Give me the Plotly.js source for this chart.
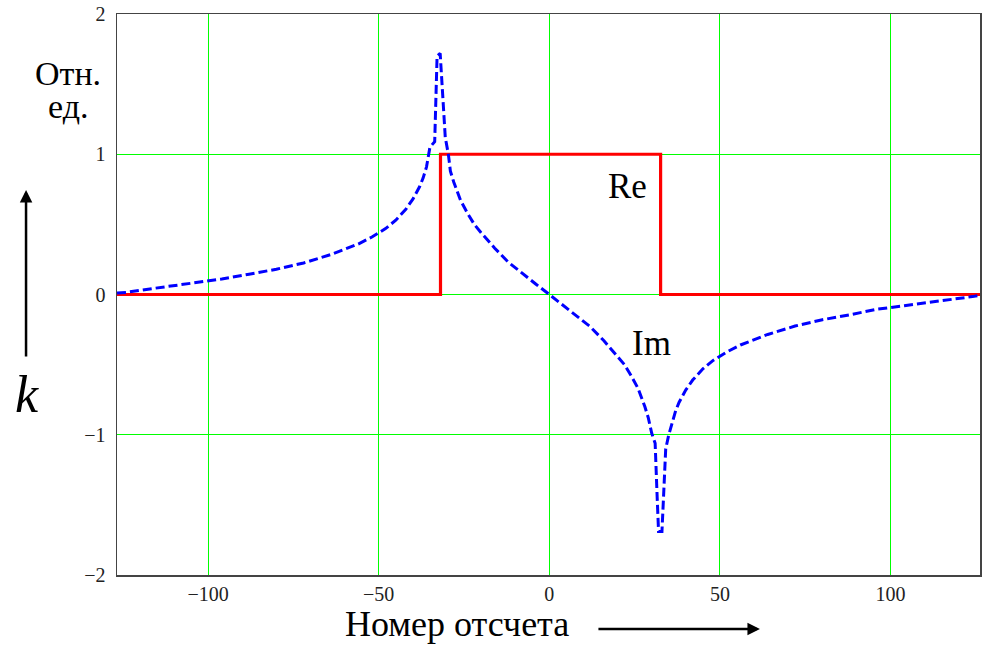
<!DOCTYPE html>
<html>
<head>
<meta charset="utf-8">
<script src="https://cdn.plot.ly/plotly-3.0.1.min.js"></script>
<style>html,body{margin:0;padding:0;background:#fff;}#chart{width:982px;height:652px;}</style>
</head>
<body>
<div id="chart"></div>
<script>
// Re part (rectangular window)
var reX = [-126.7, -31.9, -31.9, -31.9, 32.6, 32.6, 32.6, 126.2];
var reY = [0, 0, 0.5, 1, 1, 0.5, 0, 0];

// Im part (Hilbert transform)
var imX = [-126.7, -124, -120, -112, -104, -96, -88, -80, -72, -64, -56, -52, -48, -45, -42, -40, -38, -37, -36,
  -35.0, -33.6, -32.9, -32.0, -31.0, -30.5, -29.6, -29, -28, -26, -24, -22, -20, -16, -12, -8, -4, 0,
  4, 8, 12, 16, 20, 22, 24, 26, 28, 29, 30.0, 31.0, 31.6, 32.0, 33.0, 33.7, 34.1, 35.0, 36.0, 37, 38,
  40, 42, 45, 48, 52, 56, 64, 72, 80, 88, 96, 104, 112, 120, 124, 126.2];
var imY = [0.01, 0.015, 0.03, 0.055, 0.085, 0.11, 0.145, 0.18, 0.225, 0.285, 0.36, 0.41, 0.47, 0.53, 0.61, 0.68, 0.77, 0.83, 0.91,
  1.05, 1.09, 1.70, 1.72, 1.36, 1.12, 1.0, 0.88, 0.80, 0.67, 0.58, 0.50, 0.44, 0.33, 0.23, 0.15, 0.075, 0,
  -0.075, -0.15, -0.23, -0.33, -0.44, -0.50, -0.58, -0.67, -0.80, -0.88, -0.99, -1.06, -1.45, -1.69, -1.69, -1.35, -1.10, -1.0, -0.91, -0.83, -0.77,
  -0.68, -0.61, -0.53, -0.47, -0.41, -0.36, -0.285, -0.225, -0.18, -0.145, -0.105, -0.08, -0.055, -0.03, -0.015, -0.005];

var xTicks = [-100, -50, 0, 50, 100];
var xTickText = ['\u2212100', '\u221250', '0', '50', '100'];
var yTicks = [-2, -1, 0, 1, 2];
var yTickText = ['\u22122', '\u22121', '0', '1', '2'];

var serif = 'Liberation Serif, Times New Roman, serif';

var traces = [
  {x: reX, y: reY, type: 'scatter', mode: 'lines', line: {color: '#ff0000', width: 3.2}, hoverinfo: 'skip'},
  {x: imX, y: imY, type: 'scatter', mode: 'lines', line: {color: '#0000ff', width: 3, dash: '9px,4px'}, hoverinfo: 'skip'}
];

var layout = {
  width: 982, height: 652,
  margin: {l: 117, r: 2, t: 14, b: 77, pad: 0},
  paper_bgcolor: '#ffffff', plot_bgcolor: '#ffffff',
  showlegend: false,
  xaxis: {
    range: [-126.7, 126.2], tickvals: xTicks, ticktext: xTickText,
    showgrid: true, gridcolor: '#00ff00', gridwidth: 1, zeroline: false,
    showline: true, linecolor: '#444444', linewidth: 1.5, mirror: true,
    ticks: '', tickfont: {family: serif, size: 20, color: '#222222'}
  },
  yaxis: {
    range: [-2, 2], tickvals: yTicks, ticktext: yTickText,
    showgrid: true, gridcolor: '#00ff00', gridwidth: 1, zeroline: false,
    showline: true, linecolor: '#444444', linewidth: 1.5, mirror: true,
    ticks: '', ticklabelstandoff: 6, tickfont: {family: serif, size: 20, color: '#222222'}
  },
  annotations: [
    {xref: 'paper', yref: 'paper', x: -0.0568, y: 0.8948, text: 'Отн.', showarrow: false,
     xanchor: 'center', yanchor: 'middle', font: {family: serif, size: 34, color: '#000'}},
    {xref: 'paper', yref: 'paper', x: -0.0568, y: 0.8355, text: 'ед.', showarrow: false,
     xanchor: 'center', yanchor: 'middle', font: {family: serif, size: 34, color: '#000'}},
    {xref: 'paper', yref: 'paper', x: -0.1043, y: 0.3226, text: '<i>k</i>', showarrow: false,
     xanchor: 'center', yanchor: 'middle', font: {family: serif, size: 52, color: '#000'}},
    {xref: 'paper', yref: 'paper', x: 0.394, y: -0.0873, text: 'Номер отсчета', showarrow: false,
     xanchor: 'center', yanchor: 'middle', font: {family: serif, size: 36, color: '#000'}},
    {xref: 'x', yref: 'y', x: 22.9, y: 0.77, text: 'Re', showarrow: false,
     xanchor: 'center', yanchor: 'middle', font: {family: serif, size: 35, color: '#000'}},
    {xref: 'x', yref: 'y', x: 29.8, y: -0.35, text: 'Im', showarrow: false,
     xanchor: 'center', yanchor: 'middle', font: {family: serif, size: 35, color: '#000'}},
    {xref: 'paper', yref: 'paper', x: 0.745, y: -0.0963, text: '', showarrow: true,
     ax: -163, ay: 0, arrowhead: 2, arrowsize: 1, arrowwidth: 2.5, arrowcolor: '#000'},
    {xref: 'paper', yref: 'paper', x: -0.1054, y: 0.6863, text: '', showarrow: true,
     ax: 0, ay: 168, arrowhead: 2, arrowsize: 1, arrowwidth: 2.5, arrowcolor: '#000'}
  ]
};

Plotly.newPlot('chart', traces, layout, {displayModeBar: false, staticPlot: true});
</script>
</body>
</html>
